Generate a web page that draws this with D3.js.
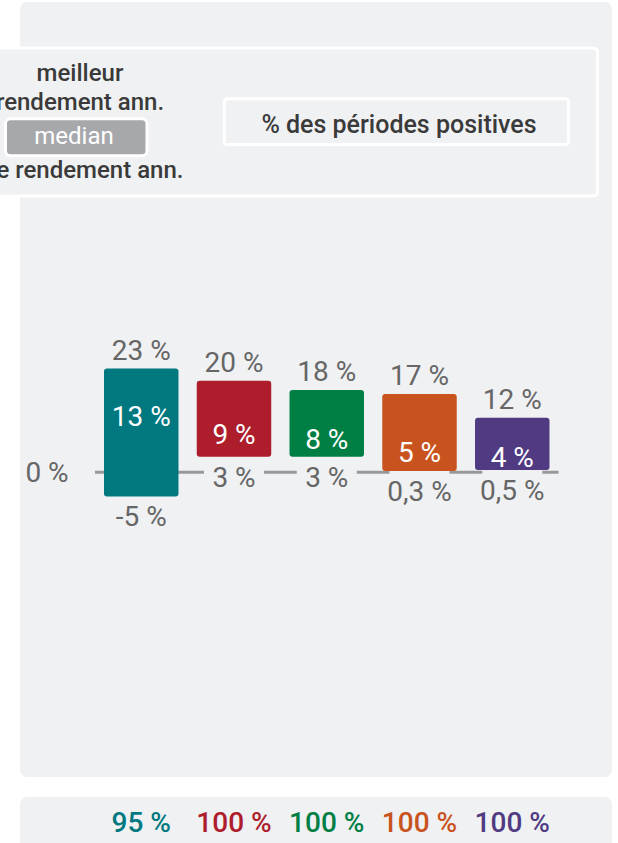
<!DOCTYPE html>
<html>
<head>
<meta charset="utf-8">
<script src="https://cdn.jsdelivr.net/npm/d3@7"></script>
<style>
  html, body { margin: 0; padding: 0; background: #ffffff; }
  svg { display: block; font-family: Roboto, "Noto Sans", sans-serif; }
</style>
</head>
<body>
<svg id="chart" width="618" height="843"></svg>
<script>
// ---- data ----
const categories = ["Fonds 1", "Fonds 2", "Fonds 3", "Fonds 4", "Fonds 5"];
const maxValues = [22.8, 20.1, 18.1, 17.2, 12.0];
const medianValues = [13, 9, 8, 5, 4];
const minValues = [-5.3, 3.4, 3.4, 0.3, 0.5];
const positivePct = [95, 100, 100, 100, 100];
const palette = ["#007880", "#ad1d2b", "#007f45", "#c9531e", "#503a82"];
const legendTop = ["meilleur", "rendement ann."];
const legendMedian = "median";
const legendBottom = "pire rendement ann.";
const legendPositive = "% des périodes positives";
const zeroLabel = 0;

const panelFill = "#f0f1f3";
const textGray = "#666666";

const svg = d3.select("#chart");
const locale = d3.formatLocale({ decimal: ",", thousands: " ", grouping: [3], currency: ["", " €"], minus: "-" });

// panels
svg.append("rect").attr("x", 20).attr("y", 2).attr("width", 592).attr("height", 775)
  .attr("rx", 7).attr("fill", panelFill);
svg.append("rect").attr("x", 20).attr("y", 797).attr("width", 592).attr("height", 60)
  .attr("rx", 7).attr("fill", panelFill);

// legend
const lg = svg.append("g");
lg.append("rect").attr("x", -40).attr("y", 48).attr("width", 637.5).attr("height", 148)
  .attr("rx", 4).attr("fill", panelFill).attr("stroke", "#ffffff").attr("stroke-width", 3);
lg.append("text").attr("x", 80).attr("y", 81).attr("text-anchor", "middle")
  .attr("font-size", 24).attr("font-weight", 500).attr("fill", "#3a3a3a")
  .selectAll("tspan").data(legendTop).join("tspan")
  .attr("x", 80).attr("dy", (d, i) => i === 0 ? 0 : 29).text(d => d);
lg.append("rect").attr("x", 5.5).attr("y", 118.8).attr("width", 141.5).attr("height", 37)
  .attr("rx", 5).attr("fill", "#a7a8ac").attr("stroke", "#ffffff").attr("stroke-width", 3);
lg.append("text").attr("x", 74).attr("y", 144).attr("text-anchor", "middle")
  .attr("font-size", 24).attr("font-weight", 400).attr("fill", "#ffffff").text(legendMedian);
lg.append("text").attr("x", 76).attr("y", 178).attr("text-anchor", "middle")
  .attr("font-size", 24).attr("font-weight", 500).attr("fill", "#3a3a3a").text(legendBottom);
lg.append("rect").attr("x", 224.2).attr("y", 98.8).attr("width", 344.3).attr("height", 45.7)
  .attr("rx", 3).attr("fill", panelFill).attr("stroke", "#ffffff").attr("stroke-width", 3);
lg.append("text").attr("x", 399).attr("y", 133).attr("text-anchor", "middle")
  .attr("font-size", 25).attr("font-weight", 500).attr("fill", "#3a3a3a").text(legendPositive);

// scales
const x = d3.scaleBand().domain(categories).range([104, 549.5]).paddingInner(0.197).paddingOuter(0);
const y = d3.scaleLinear().domain([-10, 30]).range([517.8, 335.8]);
const color = d3.scaleOrdinal().domain(categories).range(palette);

const fmt = v => (v !== 0 && Math.abs(v) < 1 ? locale.format(".1f")(v) : locale.format(".0f")(v)) + " %";

const rows = categories.map((c, i) => ({
  cat: c, max: maxValues[i], med: medianValues[i], min: minValues[i], pos: positivePct[i]
}));

const plot = svg.append("g");
const y0 = y(0);
const fs = 28;

// zero line
plot.append("line").attr("x1", x(categories[0]) - 9).attr("x2", x(categories[4]) + x.bandwidth() + 9)
  .attr("y1", y0).attr("y2", y0).attr("stroke", "#999999").attr("stroke-width", 3);

plot.append("text").attr("x", 47).attr("y", y0 + 10).attr("text-anchor", "middle")
  .attr("font-size", fs).attr("fill", textGray).text(fmt(zeroLabel));

// min label backdrops where the label sits on the line
rows.forEach(d => {
  const base = y(d.min) + 30;
  if (d.min > 0 && base - 30 < y0 + 1.5) {
    plot.append("rect").attr("x", x(d.cat) + x.bandwidth() / 2 - 30).attr("y", base - 30)
      .attr("width", 60).attr("height", 38).attr("fill", panelFill);
  }
});

// bars
plot.selectAll("rect.bar").data(rows).join("rect").attr("class", "bar")
  .attr("x", d => x(d.cat)).attr("width", x.bandwidth())
  .attr("y", d => y(d.max)).attr("height", d => y(d.min) - y(d.max))
  .attr("rx", 3).attr("fill", d => color(d.cat));

// labels
plot.selectAll("text.max").data(rows).join("text").attr("class", "max")
  .attr("x", d => x(d.cat) + x.bandwidth() / 2).attr("y", d => y(d.max) - 9)
  .attr("text-anchor", "middle").attr("font-size", fs).attr("fill", textGray)
  .text(d => fmt(d.max));
plot.selectAll("text.min").data(rows).join("text").attr("class", "min")
  .attr("x", d => x(d.cat) + x.bandwidth() / 2).attr("y", d => y(d.min) + 30)
  .attr("text-anchor", "middle").attr("font-size", fs).attr("fill", textGray)
  .text(d => fmt(d.min));
plot.selectAll("text.med").data(rows).join("text").attr("class", "med")
  .attr("x", d => x(d.cat) + x.bandwidth() / 2).attr("y", d => y(d.med) + 12.6)
  .attr("text-anchor", "middle").attr("font-size", fs).attr("fill", "#ffffff")
  .text(d => fmt(d.med));

// bottom % positive
svg.selectAll("text.pos").data(rows).join("text").attr("class", "pos")
  .attr("x", d => x(d.cat) + x.bandwidth() / 2).attr("y", 832)
  .attr("text-anchor", "middle").attr("font-size", fs).attr("font-weight", 500)
  .attr("fill", d => color(d.cat)).text(d => fmt(d.pos));
</script>
</body>
</html>
